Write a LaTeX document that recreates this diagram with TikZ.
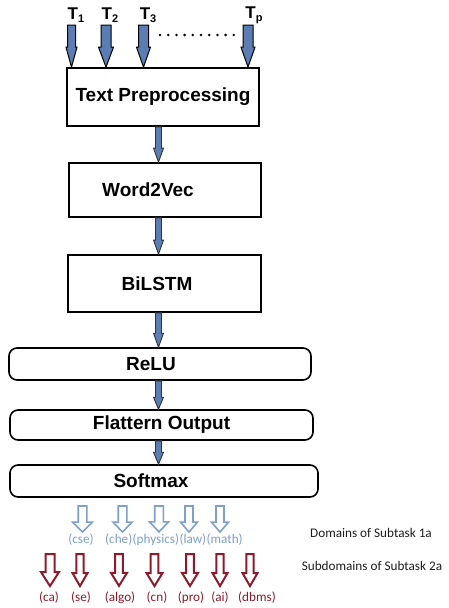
\documentclass[tikz,border=0pt]{standalone}
\usepackage{fontspec}
\setmainfont{Liberation Sans}
\newfontfamily\carl{Carlito}
\usetikzlibrary{calc}
\definecolor{steel}{HTML}{5B7DB3}
\definecolor{lblue}{HTML}{7F9FCC}
\definecolor{dred}{HTML}{8C1C2C}
\definecolor{dtext}{HTML}{1E1E1E}
\newcommand{\fatarrow}[6][]{%
  \draw[#1] let \p1=#2, \p2=#3 in
    (\x1-#4,\y1) -- (\x1-#4,\y2+#6) -- (\x1-#5,\y2+#6) -- (\x1,\y2)
    -- (\x1+#5,\y2+#6) -- (\x1+#4,\y2+#6) -- (\x1+#4,\y1) -- cycle;}
\newcommand{\tsub}[1]{\raisebox{-3pt}{\fontsize{11}{11}\selectfont #1}}
\newcommand{\padr}[1]{\rule{#1}{0pt}}
\tikzset{
  box/.style={draw, line width=1.8pt, rectangle, inner sep=0pt,
    font=\fontsize{19}{20}\selectfont\bfseries},
  capsule/.style={draw, line width=1.6pt, rectangle, rounded corners=8pt, inner sep=0pt,
    font=\fontsize{19}{20}\selectfont\bfseries},
  tlab/.style={font=\fontsize{17}{17}\selectfont\bfseries, inner sep=0pt},
  toparr/.style={draw=black, fill=steel, line width=1pt, line join=miter},
  midarr/.style={draw=black!80, fill=steel, line width=0.9pt, line join=miter},
  bluearr/.style={draw=lblue, fill=white, line width=1.6pt, line join=miter},
  redarr/.style={draw=dred, fill=white, line width=2pt, line join=miter},
  bluelab/.style={text=lblue, font=\carl\fontsize{13.2}{13}\selectfont, inner sep=0pt},
  redlab/.style={text=dred, font=\carl\fontsize{13.2}{13}\selectfont, inner sep=0pt},
  sidelab/.style={text=dtext, font=\carl\fontsize{13.2}{13}\selectfont, inner sep=0pt},
}
\begin{document}
\begin{tikzpicture}[x=1pt,y=-1pt]
\useasboundingbox[fill=white] (0,0) rectangle (448,608);

% main blocks
\node[box, minimum width=192pt, minimum height=58pt] (tp) at (163,97) {Text Preprocessing};
\node[box, minimum width=192pt, minimum height=54pt] (w2v) at (165,190) {Word2Vec\padr{34pt}};
\node[box, minimum width=193pt, minimum height=57pt] (bil) at (164.5,283.5) {BiLSTM\padr{15pt}};
\node[capsule, minimum width=302pt, minimum height=32pt] (relu) at (160,364) {ReLU\padr{18pt}};
\node[capsule, minimum width=303pt, minimum height=30pt] (flat) at (161.5,425) {Flattern Output};
\node[capsule, minimum width=308pt, minimum height=32pt] (soft) at (164,481) {Softmax\padr{26pt}};

% inputs
\node[tlab] (t1) at (76,15) {T\tsub{1}};
\node[tlab] (t2) at (110,15) {T\tsub{2}};
\node[tlab] (t3) at (148,15) {T\tsub{3}};
\node[tlab] (tpp) at (254,15) {T\tsub{p}};
\coordinate (a1) at (71.5,25);
\coordinate (a2) at (106,25);
\coordinate (a3) at (143.5,25);
\coordinate (a4) at (248,25);
\fatarrow[toparr]{(a1)}{(a1 |- tp.north)}{4pt}{5.5pt}{20pt}
\fatarrow[toparr]{(a2)}{(a2 |- tp.north)}{5pt}{7.5pt}{20pt}
\fatarrow[toparr]{(a3)}{(a3 |- tp.north)}{5pt}{7pt}{20pt}
\fatarrow[toparr]{(a4)}{(a4 |- tp.north)}{5pt}{7pt}{20pt}
\coordinate (d1) at (160,35);
\coordinate (d2) at (234,35);
\draw[line width=2.8pt, line cap=round, dash pattern=on 0pt off 8.2pt] (d1) -- (d2);

% arrows between blocks
\coordinate (ax) at (158.5,0);
\fatarrow[midarr]{(tp.south -| ax)}{(w2v.north -| ax)}{3pt}{5pt}{14pt}
\fatarrow[midarr]{(w2v.south -| ax)}{(bil.north -| ax)}{3pt}{5pt}{14pt}
\fatarrow[midarr]{(bil.south -| ax)}{(relu.north -| ax)}{3pt}{5pt}{14pt}
\fatarrow[midarr]{(relu.south -| ax)}{(flat.north -| ax)}{3pt}{5pt}{12pt}
\fatarrow[midarr]{(flat.south -| ax)}{(soft.north -| ax)}{3pt}{5pt}{12pt}

% domains (subtask 1a)
\node[bluelab] (cse) at (81,540) {(cse)};
\node[bluelab, anchor=west] (che) at (105,540) {(che)};
\node[bluelab, anchor=west] (phy) at (che.east) {(physics)};
\node[bluelab, anchor=west] (law) at (phy.east) {(law)};
\node[bluelab, anchor=west] (math) at (law.east) {(math)};
\coordinate (b1) at (82.5,506);
\coordinate (b2) at (122.5,506);
\coordinate (b3) at (159,506);
\coordinate (b4) at (189,506);
\coordinate (b5) at (220,506);
\fatarrow[bluearr]{(b1)}{($(b1 |- cse.north)+(0,-2)$)}{4.3pt}{10pt}{10pt}
\fatarrow[bluearr]{(b2)}{($(b2 |- che.north)+(0,-2)$)}{4.3pt}{9.5pt}{10pt}
\fatarrow[bluearr]{(b3)}{($(b3 |- phy.north)+(0,-2)$)}{4.3pt}{9.5pt}{10pt}
\fatarrow[bluearr]{(b4)}{($(b4 |- law.north)+(0,-2)$)}{4pt}{8.5pt}{10pt}
\fatarrow[bluearr]{(b5)}{($(b5 |- math.north)+(0,-2)$)}{4pt}{8.5pt}{10pt}

% subdomains (subtask 2a)
\node[redlab] (ca) at (49,598) {(ca)};
\node[redlab] (se) at (81,598) {(se)};
\node[redlab] (algo) at (120,598) {(algo)};
\node[redlab] (cn) at (157,598) {(cn)};
\node[redlab] (pro) at (191,598) {(pro)};
\node[redlab] (ai) at (220,598) {(ai)};
\node[redlab] (dbms) at (257,598) {(dbms)};
\coordinate (r1) at (50,554);
\coordinate (r2) at (80,554);
\coordinate (r3) at (119,554);
\coordinate (r4) at (154.5,554);
\coordinate (r5) at (190,554);
\coordinate (r6) at (220,554);
\coordinate (r7) at (250,554);
\fatarrow[redarr]{(r1)}{($(r1 |- ca.north)+(0,-6)$)}{4.5pt}{9pt}{14pt}
\fatarrow[redarr]{(r2)}{($(r2 |- se.north)+(0,-6)$)}{3.6pt}{7.5pt}{13pt}
\fatarrow[redarr]{(r3)}{($(r3 |- algo.north)+(0,-6)$)}{3.8pt}{8pt}{13pt}
\fatarrow[redarr]{(r4)}{($(r4 |- cn.north)+(0,-6)$)}{3.8pt}{8pt}{13pt}
\fatarrow[redarr]{(r5)}{($(r5 |- pro.north)+(0,-6)$)}{3.8pt}{8pt}{13pt}
\fatarrow[redarr]{(r6)}{($(r6 |- ai.north)+(0,-6)$)}{3.6pt}{7.5pt}{13pt}
\fatarrow[redarr]{(r7)}{($(r7 |- dbms.north)+(0,-6)$)}{3.6pt}{7.5pt}{13pt}

% side labels
\node[sidelab] (dom) at (371,533) {Domains of Subtask 1a};
\node[sidelab] (sub) at (372,566) {Subdomains of Subtask 2a};
\end{tikzpicture}
\end{document}
